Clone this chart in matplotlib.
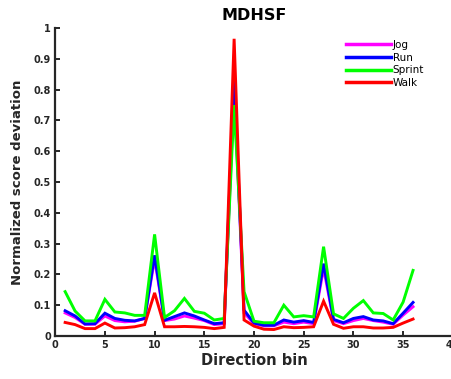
import matplotlib
matplotlib.use("Agg")
import matplotlib.pyplot as plt
import numpy as np

bins = list(range(1, 37))
jog = [0.075, 0.060, 0.038, 0.038, 0.065, 0.050, 0.046, 0.048, 0.057, 0.250,
       0.050, 0.055, 0.065, 0.058, 0.050, 0.037, 0.040, 0.800, 0.075, 0.040,
       0.033, 0.033, 0.045, 0.040, 0.045, 0.040, 0.220, 0.050, 0.040, 0.050,
       0.057, 0.050, 0.045, 0.038, 0.068, 0.095]
run = [0.082, 0.065, 0.039, 0.040, 0.074, 0.057, 0.051, 0.049, 0.057, 0.262,
       0.051, 0.063, 0.075, 0.065, 0.052, 0.040, 0.043, 0.830, 0.084, 0.042,
       0.035, 0.035, 0.052, 0.045, 0.050, 0.044, 0.235, 0.054, 0.043, 0.057,
       0.063, 0.052, 0.049, 0.040, 0.074, 0.109]
sprint = [0.144, 0.081, 0.049, 0.049, 0.119, 0.078, 0.075, 0.067, 0.067, 0.330,
          0.060, 0.082, 0.122, 0.080, 0.074, 0.052, 0.057, 0.750, 0.144, 0.048,
          0.043, 0.043, 0.100, 0.062, 0.066, 0.062, 0.290, 0.072, 0.057, 0.090,
          0.115, 0.075, 0.073, 0.052, 0.110, 0.213]
walk = [0.044, 0.037, 0.024, 0.024, 0.042, 0.026, 0.027, 0.030, 0.037, 0.140,
        0.030, 0.030, 0.031, 0.030, 0.028, 0.024, 0.028, 0.965, 0.052, 0.032,
        0.022, 0.021, 0.030, 0.027, 0.028, 0.030, 0.113, 0.038, 0.025, 0.030,
        0.030, 0.026, 0.026, 0.028, 0.042, 0.055]

series = [("Jog", jog, "#ff00ff"), ("Run", run, "#0000ff"),
          ("Sprint", sprint, "#00ff00"), ("Walk", walk, "#ff0000")]
xticks = [0, 5, 10, 15, 20, 25, 30, 35, 40]
yticks = [0, 0.1, 0.2, 0.3, 0.4, 0.5, 0.6, 0.7, 0.8, 0.9, 1]
ytick_labels = ["0", "0.1", "0.2", "0.3", "0.4", "0.5", "0.6", "0.7", "0.8", "0.9", "1"]

W, H = 452, 379
fig = plt.figure(figsize=(W / 100, H / 100), dpi=100)
left, right, bottom, top = 55.2, 452.8, 336, 28
ax = fig.add_axes([left / W, 1 - bottom / H, (right - left) / W, (bottom - top) / H])

for name, vals, col in series:
    ax.plot(bins, vals, color=col, lw=2.1, label=name, solid_joinstyle="miter")

ax.set_xlim(0, 40)
ax.set_ylim(0, 1)
ax.set_xticks(xticks)
ax.set_yticks(yticks)
ax.set_yticklabels(ytick_labels)
dark = "#262626"
for s in ["top", "right"]:
    ax.spines[s].set_visible(False)
for s in ["left", "bottom"]:
    ax.spines[s].set_linewidth(1.6)
    ax.spines[s].set_color(dark)
ax.tick_params(direction="in", length=3.5, width=1.4, color=dark,
               labelsize=7, labelcolor=dark, pad=3)
for lab in ax.get_xticklabels() + ax.get_yticklabels():
    lab.set_fontweight("bold")

ax.set_title("MDHSF", fontsize=11.5, fontweight="bold", pad=6)
ax.set_xlabel("Direction bin", fontsize=10.5, fontweight="bold", color=dark, labelpad=2)
ax.set_ylabel("Normalized score deviation", fontsize=9.5, fontweight="bold", color=dark, labelpad=7)

leg = ax.legend(loc="upper left", bbox_to_anchor=(346 / W, 1 - 40 / H),
                bbox_transform=fig.transFigure, frameon=False, fontsize=7.5,
                handlelength=4.3, handletextpad=0.2, labelspacing=0.25,
                borderpad=0, borderaxespad=0)
for l in leg.get_lines():
    l.set_linewidth(2.5)

fig.savefig("out.png", dpi=100)
